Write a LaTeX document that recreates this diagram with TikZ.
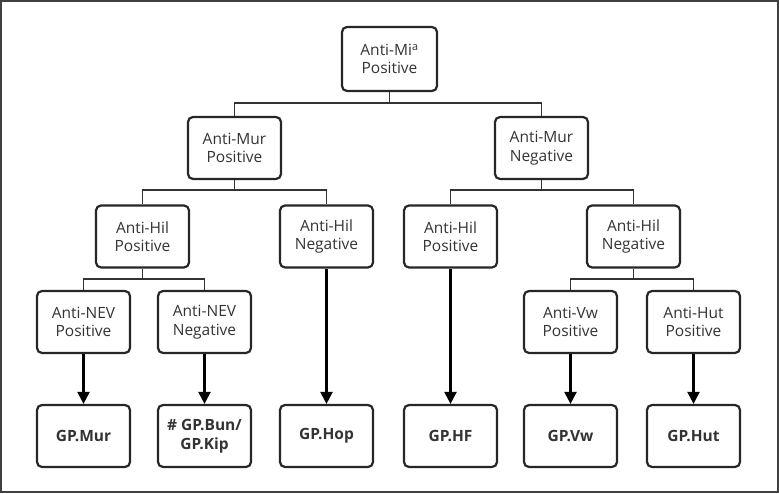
\documentclass[tikz,border=0pt]{standalone}
\usepackage{fontspec}
\setmainfont{Open Sans}
\usetikzlibrary{arrows.meta}
\newcommand{\boxfont}{\fontsize{15.5}{18.5}\selectfont}
\begin{document}
\begin{tikzpicture}[x=1pt,y=-1pt,
  box/.style={draw=black!85, line width=2.2pt, rounded corners=5pt, minimum width=93pt, minimum height=62pt, align=center, inner sep=2pt, font=\boxfont, text=black!80},
  leaf/.style={box, font=\boxfont\bfseries},
  conn/.style={draw=black!80, line width=1.5pt},
  arr/.style={draw=black, line width=2.2pt, -{Triangle[length=12pt,width=12pt]}}]
\useasboundingbox (0,0) rectangle (779,494);
\draw[line width=2pt, black!75] (1,1) rectangle (778,492);
% nodes
\node[box, minimum width=95pt, minimum height=64pt] (root) at (389.5,59) {Anti-Mi\textsuperscript{a}\\Positive};
\node[box] (mp) at (234.5,148) {Anti-Mur\\Positive};
\node[box] (mn) at (541.5,148) {Anti-Mur\\Negative};
\node[box] (hp1) at (142.5,236.5) {Anti-Hil\\Positive};
\node[box] (hn1) at (326.5,236.5) {Anti-Hil\\Negative};
\node[box] (hp2) at (450.5,236.5) {Anti-Hil\\Positive};
\node[box] (hn2) at (633.5,236.5) {Anti-Hil\\Negative};
\node[box] (nevp) at (83.5,322) {Anti-NEV\\Positive};
\node[box] (nevn) at (204.5,322) {Anti-NEV\\Negative};
\node[box] (vw) at (570.5,322) {Anti-Vw\\Positive};
\node[box] (hut) at (693.5,322) {Anti-Hut\\Positive};
\node[leaf] (gmur) at (83.5,436) {GP.Mur};
\node[leaf] (gbun) at (204.5,436) {\# GP.Bun/\\GP.Kip};
\node[leaf] (ghop) at (326.5,436) {GP.Hop};
\node[leaf] (ghf) at (450.5,436) {GP.HF};
\node[leaf] (gvw) at (570.5,436) {GP.Vw};
\node[leaf] (ghut) at (693.5,436) {GP.Hut};
% tree connectors
\coordinate (j1) at (389.5,103);
\draw[conn] (root.south) -- (j1);
\draw[conn] (mp.north) |- (j1) -| (mn.north);
\coordinate (j2) at (234.5,190);
\draw[conn] (mp.south) -- (j2);
\draw[conn] (hp1.north) |- (j2) -| (hn1.north);
\coordinate (j3) at (541.5,190);
\draw[conn] (mn.south) -- (j3);
\draw[conn] (hp2.north) |- (j3) -| (hn2.north);
\coordinate (j4) at (142.5,279);
\draw[conn] (hp1.south) -- (j4);
\draw[conn] (nevp.north) |- (j4) -| (nevn.north);
\coordinate (j5) at (633.5,279);
\draw[conn] (hn2.south) -- (j5);
\draw[conn] (vw.north) |- (j5) -| (hut.north);
% arrows
\draw[arr] (nevp) -- (gmur);
\draw[arr] (nevn) -- (gbun);
\draw[arr] (hn1) -- (ghop);
\draw[arr] (hp2) -- (ghf);
\draw[arr] (vw) -- (gvw);
\draw[arr] (hut) -- (ghut);
\end{tikzpicture}
\end{document}
